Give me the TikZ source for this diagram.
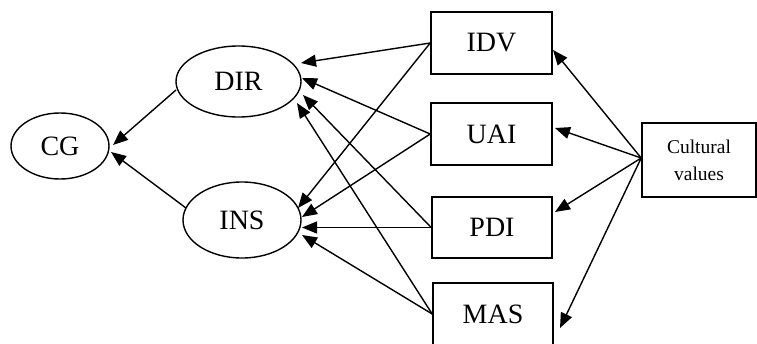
\documentclass[tikz,border=0pt]{standalone}
\usepackage{fontspec}
\setmainfont{Liberation Serif}
\usetikzlibrary{calc,shapes.geometric,arrows.meta}
\begin{document}
\begin{tikzpicture}[x=1pt,y=-1pt,
  ell/.style={draw,ellipse,line width=1.4pt,inner sep=0pt,font=\fontsize{28}{30}\selectfont},
  box/.style={draw,rectangle,line width=1.6pt,inner sep=0pt,font=\fontsize{28}{30}\selectfont},
  arr/.style={line width=1.4pt,-{Triangle[length=15pt,width=12pt]}}]
\useasboundingbox (0,0) rectangle (757,343);
\node[ell,minimum width=98pt,minimum height=66pt] (CG) at (60,146) {CG};
\node[ell,minimum width=125pt,minimum height=71pt] (DIR) at (238.5,81.5) {DIR};
\node[ell,minimum width=118pt,minimum height=76pt] (INS) at (242,220) {INS};
\node[box,minimum width=121pt,minimum height=62pt] (IDV) at (491.5,43) {IDV};
\node[box,minimum width=121pt,minimum height=62pt] (UAI) at (491.5,134) {UAI};
\node[box,minimum width=120pt,minimum height=61pt] (PDI) at (492,227.5) {PDI};
\node[box,minimum width=120pt,minimum height=62pt] (MAS) at (493,314) {MAS};
\node[box,minimum width=114pt,minimum height=74pt,align=center,font=\fontsize{19.5}{27}\selectfont] (CV) at (699,160) {Cultural\\values};
% to CG
\draw[arr] ($(DIR)+(-62.5,8.5)$) -- ($(CG)+(53,-1)$);
\draw[arr] ($(INS)+(-56,-12)$) -- ($(CG)+(51,6)$);
% to DIR
\draw[arr] (IDV.west) -- ($(DIR)+(62.5,-18.5)$);
\draw[arr] (UAI.west) -- ($(DIR)+(63.5,-3.5)$);
\draw[arr] (PDI.west) -- ($(DIR)+(64.5,13.5)$);
\draw[arr] (MAS.west) -- ($(DIR)+(58.5,21.5)$);
% to INS
\draw[arr] (IDV.west) -- ($(INS)+(56,-12)$);
\draw[arr] (UAI.west) -- ($(INS)+(60,-3)$);
\draw[arr] (PDI.west) -- ($(INS)+(60,7.5)$);
\draw[arr] (MAS.west) -- ($(INS)+(60,15)$);
% from cultural values
\draw[arr] ($(CV.west)+(0,-2)$) -- ($(IDV)+(61.5,7)$);
\draw[arr] ($(CV.west)+(0,-2)$) -- ($(UAI)+(63.5,-6)$);
\draw[arr] ($(CV.west)+(0,-2)$) -- ($(PDI)+(63,-15.5)$);
\draw[arr] ($(CV.west)+(0,-2)$) -- ($(MAS)+(67,14)$);
\end{tikzpicture}
\end{document}
